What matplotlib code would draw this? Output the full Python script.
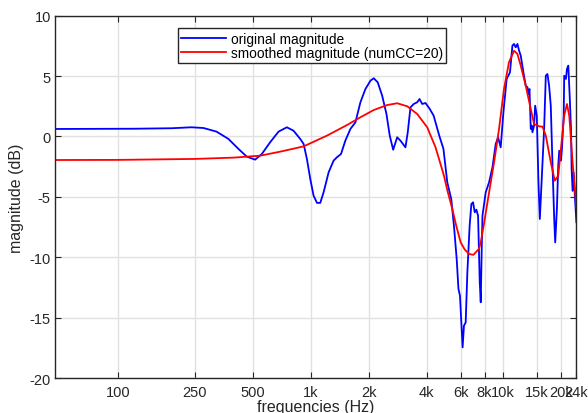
import matplotlib
matplotlib.use("Agg")
import matplotlib.pyplot as plt

plt.rcParams['font.family'] = ['Liberation Sans', 'DejaVu Sans']
plt.rcParams['axes.unicode_minus'] = False

# original magnitude
orig_freq = [46.875, 120, 189, 240, 277, 324, 373, 421, 465, 514, 557, 615, 680,
             751, 813, 881, 918, 955, 994, 1034, 1077, 1120, 1166, 1238, 1314,
             1368, 1436, 1512, 1606, 1706, 1811, 1923, 2042, 2124, 2228, 2349,
             2473, 2572, 2680, 2811, 2925, 3104, 3191, 3296, 3428, 3572, 3673,
             3793, 3946, 4154, 4349, 4651, 4890, 5120, 5370, 5545, 5730, 5850,
             5960, 6060, 6150, 6250, 6380, 6510, 6690, 6830, 6970, 7110, 7250,
             7400, 7550, 7640, 7730, 7800, 8110, 8440, 8790, 9140, 9400, 9700,
             10020, 10420, 10840, 11160, 11380, 11610, 11850, 12090,
             12330, 12730, 13090, 13360, 13520, 13690, 13900, 14070, 14180,
             14460, 14650, 14940, 15240, 15490, 15810, 16310, 16640, 16970,
             17310, 17660, 18030, 18400, 18620, 19000, 19310, 19540, 19950,
             20180, 20610, 20740, 21170, 21430, 21780, 22140, 22500, 22660,
             22930, 23200, 23550, 24000]
orig_mag = [0.62, 0.64, 0.68, 0.76, 0.7, 0.4, -0.2, -1.03, -1.67, -1.92, -1.45,
            -0.48, 0.4, 0.76, 0.48, -0.2, -0.62, -1.87, -3.52, -4.9, -5.5, -5.5,
            -4.62, -2.97, -2.0, -1.72, -1.45, -0.35, 0.62, 1.17, 2.83, 3.93,
            4.62, 4.82, 4.48, 3.38, 1.86, 0.07, -1.1, -0.07, -0.35, -0.9, 0.35,
            2.41, 2.69, 2.83, 3.1, 2.69, 2.77, 2.27, 1.72, 0.07, -1.03, -3.8,
            -5.18, -7.39, -10.15, -12.6, -13.2, -15.4, -17.46, -15.67, -15.4,
            -11.25, -7.39, -5.6, -5.45, -6.28, -6.06, -6.56, -12.08, -13.73,
            -9.3, -6.56, -4.62, -3.8, -2.55, -0.62, -0.07, -0.9, 2.0,
            4.76, 5.31, 7.52, 7.66, 7.38, 7.66, 7.1, 6.69, 5.31, 4.2, 4.07, 3.52,
            3.93, 0.62, 0.9, 0.35, 0.9, 2.55, 1.72, -3.8, -6.83, -3.8, 0.62,
            5.03, 5.17, 4.2, 2.55, -2.4, -6.83, -8.77, -6.0, -2.4, -1.18, -2.0,
            -1.03, 1.72, 5.03, 4.76, 5.59, 5.86, 3.38, 0.62, -2.69, -4.5, -2.97,
            -4.9, -7.1]

# smoothed magnitude (numCC=20)
smooth_freq = [46.875, 100, 250, 400, 546, 693, 918, 1214, 1544, 1811, 2124,
               2495, 2811, 3170, 3572, 4027, 4449, 4721, 4920, 5150, 5436, 5700,
               6010, 6300, 6640, 7000, 7480, 7640, 7950, 8280, 8960, 9510, 10090,
               10710, 11380, 11850, 12330, 13090, 13900, 14460, 15360, 16000,
               16640, 17660, 18530, 19310, 20180, 20740, 21430, 22030, 22930,
               24000]
smooth_mag = [-1.95, -1.94, -1.86, -1.75, -1.59, -1.26, -0.82, 0.07, 0.95, 1.59,
              2.19, 2.6, 2.75, 2.5, 1.86, 0.76, -0.9, -2.28, -3.25, -4.6, -6.0,
              -7.4, -8.77, -9.35, -9.73, -9.8, -9.3, -8.77, -7.2, -5.45, -2.14,
              0.62, 3.93, 6.14, 7.1, 6.83, 5.86, 4.2, 2.27, 1.03, 0.84, 0.81,
              0.07, -2.14, -3.66, -3.25, -0.2, 1.72, 2.69, 1.72, -2.14, -5.9]

xtick_vals = [100, 250, 500, 1000, 2000, 4000, 6000, 8000, 10000, 15000, 20000, 24000]
xtick_text = ['100', '250', '500', '1k', '2k', '4k', '6k', '8k', '10k', '15k', '20k', '24k']

fig = plt.figure(figsize=(5.88, 4.14), dpi=100)
ax = fig.add_axes([0.0935, 0.0845, 0.8868, 0.8752])

ax.plot(orig_freq, orig_mag, color='#0000ff', lw=1.3, label='original magnitude')
ax.plot(smooth_freq, smooth_mag, color='#ff0000', lw=1.3,
        label='smoothed magnitude (numCC=20)')

ax.set_xscale('log')
ax.set_xlim(46.875, 24000)
ax.set_ylim(-20, 10)
ax.set_xticks(xtick_vals)
ax.set_xticklabels(xtick_text)
ax.xaxis.set_minor_locator(matplotlib.ticker.NullLocator())
ax.set_yticks([-20, -15, -10, -5, 0, 5, 10])

ax.grid(True, color='#e1e1e1', lw=1.0)
ax.set_axisbelow(True)
for s in ax.spines.values():
    s.set_color('#262626')
    s.set_linewidth(1.0)
ax.tick_params(direction='in', top=True, right=True, length=4, width=0.8,
               labelsize=10.5, labelcolor='#262626', color='#262626', pad=3)
ax.tick_params(axis='x', pad=5)

ax.set_xlabel('frequencies (Hz)', fontsize=11.5, color='#262626', labelpad=0)
ax.set_ylabel('magnitude (dB)', fontsize=11.5, color='#262626', labelpad=4)

leg = ax.legend(loc='upper left', bbox_to_anchor=(0.302, 0.929),
                bbox_transform=fig.transFigure, borderaxespad=0,
                fancybox=False, fontsize=9.9, handlelength=3.3,
                handletextpad=0.3, labelspacing=0.0, borderpad=0.25,
                framealpha=1)
leg.get_frame().set_edgecolor('#262626')
leg.get_frame().set_linewidth(1.0)

fig.savefig('out.png', dpi=100)
